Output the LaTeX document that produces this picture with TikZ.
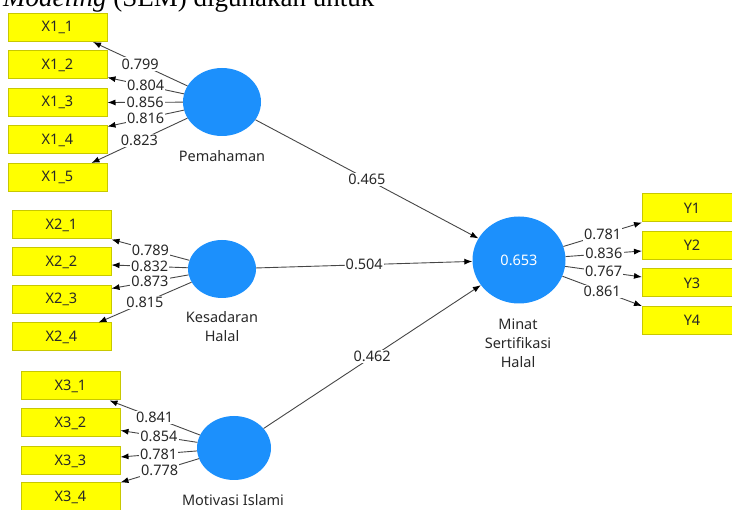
\documentclass[tikz,border=0pt]{standalone}
\usepackage{fontspec}
\setmainfont{Noto Sans}
\newfontfamily\docserif{Liberation Serif}
\usetikzlibrary{shapes.geometric,arrows.meta,calc}
\definecolor{latblue}{RGB}{28,144,252}
\definecolor{boxline}{RGB}{200,200,0}
\definecolor{boxfill}{RGB}{255,255,0}
\definecolor{linegray}{RGB}{70,70,70}
\definecolor{txt}{RGB}{40,40,40}
\begin{document}
\begin{tikzpicture}[x=1pt,y=-1pt,
  every node/.style={font=\fontsize{14.5}{19}\selectfont, text=txt},
  ind/.style={rectangle, draw=boxline, fill=boxfill, line width=1pt, minimum width=99pt, minimum height=28pt, inner sep=0pt},
  lat/.style={ellipse, fill=latblue, inner sep=0pt},
  lbl/.style={align=center, inner sep=0pt},
  ld/.style={fill=white, inner sep=1.2pt, pos=0.5},
  arr/.style={draw=linegray, line width=0.9pt, -{Latex[length=8pt,width=6pt,color=black]}}
]
\useasboundingbox (0,0) rectangle (732,510);
\clip (0,0) rectangle (732,510);

% cut-off document text at the top
\node[anchor=base west, inner sep=0pt, font=\docserif\fontsize{27}{30}\selectfont, text=black] (title) at (3,7) {\textit{Modeling} (SEM) digunakan untuk};

% indicators
\node[ind] (x11) at (57.5,27.5) {X1\_1};
\node[ind] (x12) at (57.5,65) {X1\_2};
\node[ind] (x13) at (57.5,102.5) {X1\_3};
\node[ind] (x14) at (57.5,140) {X1\_4};
\node[ind] (x15) at (57.5,177.5) {X1\_5};

\node[ind] (x21) at (61.5,225) {X2\_1};
\node[ind] (x22) at (61.5,262) {X2\_2};
\node[ind] (x23) at (61.5,299.5) {X2\_3};
\node[ind] (x24) at (61.5,337) {X2\_4};

\node[ind] (x31) at (70.5,386) {X3\_1};
\node[ind] (x32) at (70.5,423) {X3\_2};
\node[ind] (x33) at (70.5,461) {X3\_3};
\node[ind] (x34) at (70.5,497) {X3\_4};

\node[ind] (y1) at (692,208) {Y1};
\node[ind] (y2) at (692,245.5) {Y2};
\node[ind] (y3) at (692,283) {Y3};
\node[ind] (y4) at (692,320.5) {Y4};

% latent variables
\node[lat, minimum width=78pt, minimum height=68pt] (pem) at (222,102) {};
\node[lat, minimum width=68pt, minimum height=58pt] (kes) at (222,269) {};
\node[lat, minimum width=74pt, minimum height=64pt] (mot) at (234,448) {};
\node[lat, minimum width=93pt, minimum height=87pt, text=white] (min) at (519,260) {0.653};

\node[lbl] (pemL) at (222,156) {Pemahaman};
\node[lbl] (kesL) at (222,327) {Kesadaran\\Halal};
\node[lbl] (motL) at (233,500) {Motivasi Islami};
\node[lbl] (minL) at (518,343) {Minat\\Sertifikasi\\Halal};

% outer loadings
\draw[arr] (pem) -- ($(x11.south east)+(-14.5,0)$) node[ld]{0.799};
\draw[arr] (pem) -- ($(x12.south east)+(0,-2)$) node[ld]{0.804};
\draw[arr] (pem) -- (x13.east) node[ld]{0.856};
\draw[arr] (pem) -- ($(x14.north east)+(0,1)$) node[ld]{0.816};
\draw[arr] (pem) -- ($(x15.north east)+(-16,0)$) node[ld]{0.823};

\draw[arr] (kes) -- (x21.south east) node[ld]{0.789};
\draw[arr] (kes) -- ($(x22.east)+(0,3)$) node[ld]{0.832};
\draw[arr] (kes) -- ($(x23.north east)+(0,3.5)$) node[ld]{0.873};
\draw[arr] (kes) -- ($(x24.north east)+(-13,0)$) node[ld]{0.815};

\draw[arr] (mot) -- ($(x31.south east)+(-11,0)$) node[ld]{0.841};
\draw[arr] (mot) -- ($(x32.south east)+(0,-7)$) node[ld]{0.854};
\draw[arr] (mot) -- ($(x33.east)+(0,-4)$) node[ld]{0.781};
\draw[arr] (mot) -- (x34.north east) node[ld]{0.778};

\draw[arr] (min) -- (y1.south west) node[ld]{0.781};
\draw[arr] (min) -- ($(y2.west)+(0,5.5)$) node[ld]{0.836};
\draw[arr] (min) -- ($(y3.west)+(0,-6)$) node[ld]{0.767};
\draw[arr] (min) -- (y4.north west) node[ld]{0.861};

% path coefficients
\draw[arr] (pem) -- (min) node[ld]{0.465};
\draw[arr] (kes) -- (min) node[ld]{0.504};
\draw[arr] (mot) -- (min) node[ld]{0.462};
\end{tikzpicture}
\end{document}
